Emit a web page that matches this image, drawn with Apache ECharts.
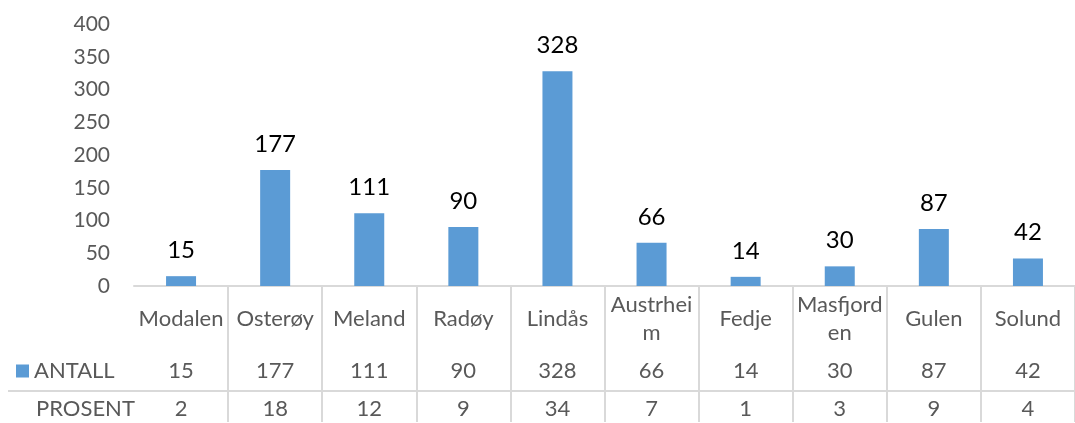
<!DOCTYPE html>
<html>
<head>
<meta charset="utf-8">
<script src="https://cdn.jsdelivr.net/npm/echarts@6/dist/echarts.min.js"></script>
<style>
  html, body { margin: 0; padding: 0; background: #fff; }
  #chart { width: 1075px; height: 423px; }
</style>
</head>
<body>
<div id="chart"></div>
<script>
const FONT = "Lato, 'Open Sans', sans-serif";
const GREY = "#595959";
const LINE = "#d9d9d9";

const categories = ["Modalen", "Osterøy", "Meland", "Radøy", "Lindås", "Austrheim", "Fedje", "Masfjorden", "Gulen", "Solund"];
// labels as they wrap in the data table
const categoryLabels = ["Modalen", "Osterøy", "Meland", "Radøy", "Lindås", "Austrhei\nm", "Fedje", "Masfjord\nen", "Gulen", "Solund"];
const antall = [15, 177, 111, 90, 328, 66, 14, 30, 87, 42];
const prosent = [2, 18, 12, 9, 34, 7, 1, 3, 9, 4];
const rowHeaders = ["ANTALL", "PROSENT"];

const chart = echarts.init(document.getElementById("chart"), null, { renderer: "canvas" });

const tableLabel = (margin) => ({
  interval: 0,
  margin,
  verticalAlign: "middle",
  lineHeight: 28,
  fontFamily: FONT,
  fontSize: 22,
  color: GREY,
});

chart.setOption({
  animation: false,
  backgroundColor: "#ffffff",
  grid: { left: 134, right: -11, top: 24, bottom: 136, containLabel: false },
  legend: {
    data: [rowHeaders[0]],
    left: 16,
    top: 360,
    padding: 0,
    icon: "rect",
    itemWidth: 13,
    itemHeight: 13,
    itemGap: 7,
    textStyle: { fontFamily: FONT, fontSize: 22, color: GREY },
  },
  xAxis: [
    {
      type: "category",
      data: categoryLabels,
      position: "bottom",
      axisLine: { lineStyle: { color: LINE, width: 2 } },
      axisTick: { show: true, interval: (i) => i > 0, length: 136, lineStyle: { color: LINE, width: 2 } },
      axisLabel: tableLabel(33),
      splitLine: { show: false },
    },
    {
      type: "category",
      data: antall.map(String),
      position: "bottom",
      axisLine: { show: false },
      axisTick: { show: false },
      axisLabel: tableLabel(85),
    },
    {
      type: "category",
      data: prosent.map(String),
      position: "bottom",
      axisLine: { show: false },
      axisTick: { show: false },
      axisLabel: tableLabel(123),
    },
  ],
  yAxis: {
    type: "value",
    min: 0,
    max: 400,
    interval: 50,
    axisLine: { show: false },
    axisTick: { show: false },
    splitLine: { show: false },
    axisLabel: { margin: 24, fontFamily: FONT, fontSize: 21, color: GREY },
  },
  series: [
    {
      name: rowHeaders[0],
      type: "bar",
      data: antall,
      barWidth: 30,
      itemStyle: { color: "#5b9bd5" },
      label: {
        show: true,
        position: "top",
        distance: 14,
        fontFamily: FONT,
        fontSize: 24,
        color: "#000000",
      },
    },
  ],
  graphic: [
    {
      type: "line",
      shape: { x1: 8, y1: 391, x2: 1075, y2: 391 },
      style: { stroke: LINE, lineWidth: 2 },
      silent: true,
    },
    {
      type: "text",
      left: 36,
      top: 398,
      style: { text: rowHeaders[1], fontFamily: FONT, fontSize: 22, fill: GREY },
      silent: true,
    },
  ],
});
</script>
</body>
</html>
